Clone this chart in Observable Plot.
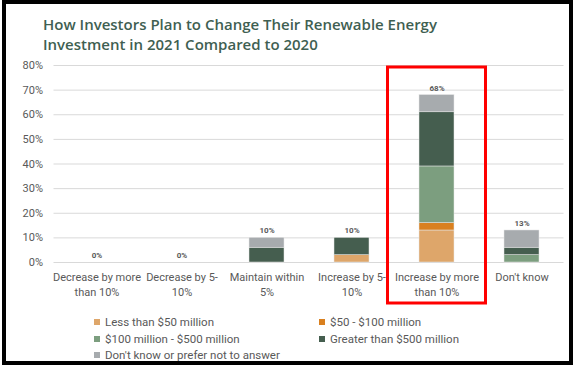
<!DOCTYPE html>
<html>
<head>
<meta charset="utf-8">
<script src="https://cdn.jsdelivr.net/npm/d3@7"></script>
<script src="https://cdn.jsdelivr.net/npm/@observablehq/plot@0.6"></script>
<style>
  html, body { margin: 0; padding: 0; background: #fff; }
  #wrap { position: relative; width: 574px; height: 369px; overflow: hidden; background: #fff; }
  #border { position: absolute; left: 2px; top: 0px; width: 571px; height: 365px; box-sizing: border-box; border: 4px solid #000; pointer-events: none; z-index: 5; }
  #title { position: absolute; left: 43px; top: 14px; font-family: "Open Sans", sans-serif; font-weight: 600; font-size: 15px; line-height: 20px; color: #3f5f52; white-space: nowrap; }
  #chart { position: absolute; left: 0; top: 55px; }
  #legend { position: absolute; left: 0; top: 314px; font-family: Roboto, sans-serif; font-size: 11.5px; color: #595959; }
  .li { position: absolute; white-space: nowrap; height: 16px; line-height: 16px; }
  .sw { display: inline-block; width: 6px; height: 6px; margin-right: 5px; vertical-align: 1px; }
</style>
</head>
<body>
<div id="wrap">
  <div id="title">How Investors Plan to Change Their Renewable Energy<br>Investment in 2021 Compared to 2020</div>
  <div id="chart"></div>
  <div id="legend"></div>
  <div id="border"></div>
</div>
<script>
const categories = ["Decrease by more than 10%", "Decrease by 5-10%", "Maintain within 5%", "Increase by 5-10%", "Increase by more than 10%", "Don't know"];
const categoryLabels = ["Decrease by more\nthan 10%", "Decrease by 5-\n10%", "Maintain within\n5%", "Increase by 5-\n10%", "Increase by more\nthan 10%", "Don't know"];
const seriesNames = ["Less than $50 million", "$50 - $100 million", "$100 million - $500 million", "Greater than $500 million", "Don't know or prefer not to answer"];
const seriesColors = ["#dea66a", "#d9801f", "#7c9e7f", "#455e4f", "#a7abae"];
const lessThan50 = [0, 0, 0, 3, 13, 0];
const from50to100 = [0, 0, 0, 0, 3, 0];
const from100to500 = [0, 0, 0, 0, 23, 3];
const greaterThan500 = [0, 0, 6, 7, 22, 3];
const dontKnow = [0, 0, 4, 0, 7, 7];
const totals = [0, 0, 10, 10, 68, 13];
const yTicks = [0, 10, 20, 30, 40, 50, 60, 70, 80];
const highlighted = "Increase by more than 10%";

const seriesValues = [lessThan50, from50to100, from100to500, greaterThan500, dontKnow];
const rows = [];
seriesNames.forEach((s, i) => categories.forEach((c, j) => rows.push({category: c, series: s, value: seriesValues[i][j]})));
const totalRows = categories.map((c, j) => ({category: c, total: totals[j]}));
const labelOf = new Map(categories.map((c, i) => [c, categoryLabels[i]]));

const W = 574, H = 250;
const chart = Plot.plot({
  width: W,
  height: H,
  marginLeft: 53.5,
  marginRight: 10.5,
  marginTop: 10,
  marginBottom: 43,
  style: {fontFamily: "Roboto, sans-serif", background: "transparent", overflow: "visible"},
  x: {domain: categories, paddingInner: 0.59, paddingOuter: 0.295, label: null},
  y: {domain: [0, 80], label: null},
  color: {domain: seriesNames, range: seriesColors},
  marks: [
    Plot.gridY(yTicks, {stroke: "#d9d9d9", strokeOpacity: 1, strokeWidth: 1}),
    Plot.axisY(yTicks, {tickSize: 0, tickPadding: 11, fontSize: 11, fill: "#595959", tickFormat: d => d + "%", label: null}),
    Plot.axisX({tickSize: 0, tickPadding: 8, fontSize: 11, fill: "#595959", lineHeight: 1.36, tickFormat: d => labelOf.get(d), label: null}),
    Plot.barY(rows, Plot.stackY({x: "category", y: "value", fill: "series", order: seriesNames, stroke: "#e8e8e8", strokeWidth: 0.5})),
    Plot.text(totalRows, {x: "category", y: "total", text: d => d.total + "%", dy: -7, fontSize: 8, fontWeight: "bold", fill: "#595959"})
  ]
});
document.getElementById("chart").appendChild(chart);

// highlight box around the emphasized category, positioned from the scales
const xs = chart.scale("x"), ys = chart.scale("y");
const cx = xs.apply(highlighted) + xs.bandwidth / 2;
const half = 49;
const svg = d3.select(chart);
svg.append("rect")
  .attr("x", cx - half)
  .attr("y", ys.apply(80) + 2)
  .attr("width", half * 2)
  .attr("height", H - 2 - (ys.apply(80) + 2))
  .attr("fill", "none")
  .attr("stroke", "#ff0000")
  .attr("stroke-width", 3);

// legend
const legendPos = [[94, 0], [319, 0], [94, 16.5], [319, 16.5], [94, 33]];
const legend = document.getElementById("legend");
seriesNames.forEach((s, i) => {
  const d = document.createElement("div");
  d.className = "li";
  d.style.left = legendPos[i][0] + "px";
  d.style.top = legendPos[i][1] + "px";
  d.innerHTML = `<span class="sw" style="background:${seriesColors[i]}"></span>`;
  d.appendChild(document.createTextNode(s));
  legend.appendChild(d);
});
</script>
</body>
</html>
